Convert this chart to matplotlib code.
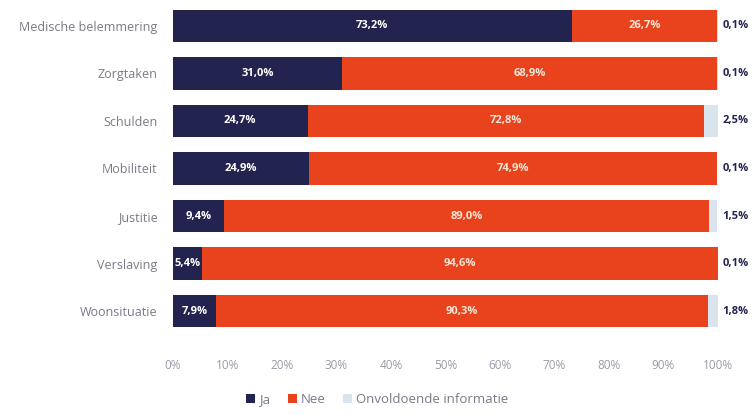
import matplotlib.pyplot as plt
import numpy as np

# Shares per category (percent)
categories = ['Medische belemmering', 'Zorgtaken', 'Schulden', 'Mobiliteit',
              'Justitie', 'Verslaving', 'Woonsituatie']
ja = [73.2, 31.0, 24.7, 24.9, 9.4, 5.4, 7.9]
nee = [26.7, 68.9, 72.8, 74.9, 89.0, 94.6, 90.3]
onvoldoende = [0.1, 0.1, 2.5, 0.1, 1.5, 0.1, 1.8]
ticks = [0, 10, 20, 30, 40, 50, 60, 70, 80, 90, 100]

navy = '#22244f'
orange = '#e8431d'
light = '#d9e4ee'

plt.rcParams['font.family'] = ['Open Sans', 'DejaVu Sans']

fig = plt.figure(figsize=(7.55, 4.15), dpi=100)
ax = fig.add_axes([0.229, 0.193, 0.722, 0.802])

y = np.arange(len(categories))
ja = np.array(ja)
nee = np.array(nee)
onv = np.array(onvoldoende)

h = 0.68
ax.barh(y, ja, height=h, color=navy, label='Ja')
ax.barh(y, nee, left=ja, height=h, color=orange, label='Nee')
ax.barh(y, onv, left=ja + nee, height=h, color=light, label='Onvoldoende informatie')

def fmt(v):
    return f'{v:.1f}%'.replace('.', ',')

for i in range(len(categories)):
    ax.text(ja[i] / 2, y[i], fmt(ja[i]), ha='center', va='center',
            color='white', fontsize=8, fontweight='bold')
    ax.text(ja[i] + nee[i] / 2, y[i], fmt(nee[i]), ha='center', va='center',
            color='#f6e6d8', fontsize=8, fontweight='bold')
    ax.annotate(fmt(onv[i]), (100, y[i]), xytext=(3, 0), textcoords='offset points',
                ha='left', va='center', color=navy, fontsize=8, fontweight='bold',
                annotation_clip=False)

ax.set_xlim(0, 100)
ax.set_ylim(len(categories) - 0.5, -0.5)
ax.set_yticks(y)
ax.set_yticklabels(categories, fontsize=9, color='#7a7a88')
ax.set_xticks(ticks)
ax.set_xticklabels([f'{t}%' for t in ticks], fontsize=8.5, color='#9a9aa8')
ax.tick_params(axis='y', length=0, pad=11)
ax.tick_params(axis='x', length=0, pad=17)
for s in ax.spines.values():
    s.set_visible(False)

ax.legend(loc='upper center', bbox_to_anchor=(0.375, -0.14), ncol=3, frameon=False,
          fontsize=9.5, handlelength=0.7, handleheight=0.7, handletextpad=0.3,
          columnspacing=1.3, labelcolor='#7a7a88')

fig.savefig('out.png', dpi=100)
